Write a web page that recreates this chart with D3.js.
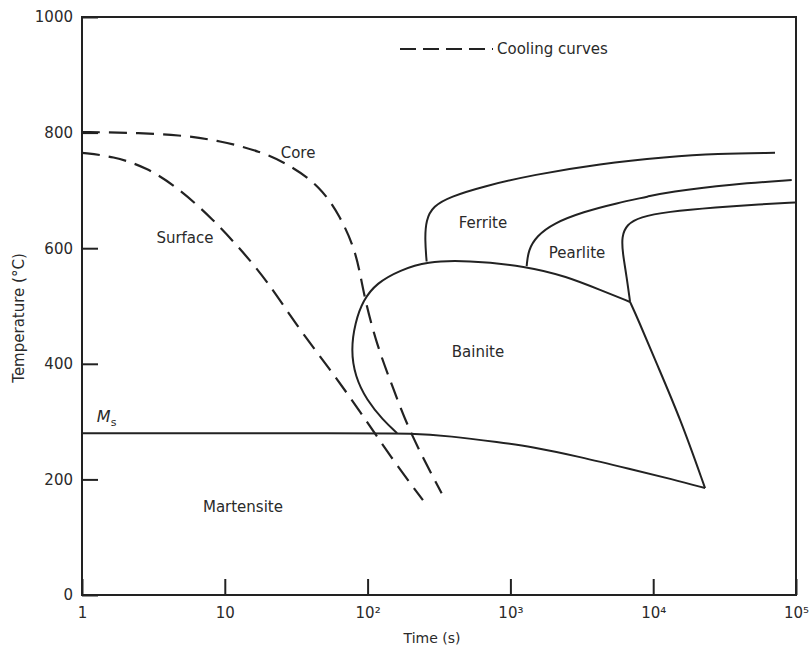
<!DOCTYPE html>
<html>
<head>
<meta charset="utf-8">
<script src="https://cdn.jsdelivr.net/npm/d3@7"></script>
<style>
  body { margin: 0; background: #fff; }
  text { font-family: "DejaVu Sans", sans-serif; fill: #2a2a2a; }
</style>
</head>
<body>
<div id="chart"></div>
<script>
// cooling curves, [time (s), temperature (°C)]
var coreCurve = [[1, 801], [2.17, 800], [4.85, 796], [9.25, 786], [17.6, 768], [28.6, 744], [46.5, 707],
    [64.1, 656], [83.9, 592], [92.9, 524], [116, 432], [151, 358], [198, 280], [330, 176]];
var surfaceCurve = [[1, 765], [1.65, 759], [2.84, 740], [4.85, 702], [8.26, 650], [12.8, 599], [19.6, 545],
    [31.9, 466], [54.6, 390], [88.5, 318], [144, 240], [244, 164]];

// transformation boundaries
var bainiteStart = [[161, 280], [128, 303], [98.6, 337], [81.7, 378], [76.5, 424], [81.7, 471], [92.9, 510],
    [116, 540], [169, 562], [259, 577], [494, 579], [1300, 569], [2477, 551], [4236, 528], [6887, 507]];
var bainiteEnd = [[6887, 507], [7800, 478], [10500, 402], [15500, 305], [23070, 185]];
var msLine = [[1, 280], [100, 280], [198, 280], [378, 275], [845, 264], [1371, 257], [3069, 239],
    [6887, 218], [13770, 200], [23070, 185]];
var ferriteStart = [[259, 577], [252, 614], [256, 649], [288, 673], [378, 689], [646, 707], [1445, 727],
    [4236, 746], [12420, 758], [27860, 764], [71290, 765]];
var pearliteStart = [[1300, 569], [1334, 597], [1528, 621], [1995, 643], [3243, 663], [5546, 678],
    [9506, 690], [12420, 697], [36390, 711], [93330, 718]];
var pearliteEnd = [[6887, 507], [6516, 551], [6109, 592], [6012, 620], [6516, 641], [8091, 654],
    [12420, 663], [27860, 671], [55980, 676], [98400, 679]];

// region labels, [time, temperature, text]
var regionLabels = [[32.6, 765, "Core"], [5.26, 618, "Surface"], [643, 644, "Ferrite"],
    [2926, 592, "Pearlite"], [593, 420, "Bainite"], [13.4, 152, "Martensite"]];

var xTicks = [1, 10, 100, 1000, 1e4, 1e5];
var xTickLabels = ["1", "10", "10²", "10³", "10⁴", "10⁵"];
var yTicks = [0, 200, 400, 600, 800, 1000];

const width = 809;
const height = 650;
const ink = "#222";

const x = d3.scaleLog().domain([1, 1e5]).range([82, 796]);
const y = d3.scaleLinear().domain([0, 1000]).range([595, 17]);

const svg = d3.select("#chart").append("svg")
    .attr("width", width)
    .attr("height", height)
    .attr("viewBox", [0, 0, width, height]);

svg.append("rect").attr("width", width).attr("height", height).attr("fill", "#fff");

// frame
svg.append("rect")
    .attr("x", x(1)).attr("y", y(1000))
    .attr("width", x(1e5) - x(1)).attr("height", y(0) - y(1000))
    .attr("fill", "none").attr("stroke", ink).attr("stroke-width", 2);

// axes, ticks pointing inward
svg.append("g")
    .attr("transform", `translate(0,${y(0)})`)
    .call(d3.axisBottom(x).tickValues(xTicks).tickSize(-16).tickPadding(12)
        .tickFormat((d, i) => xTickLabels[i]))
    .call(g => g.select(".domain").remove())
    .call(g => g.selectAll(".tick line").attr("stroke", ink).attr("stroke-width", 2))
    .call(g => g.selectAll(".tick text").attr("font-size", 15).attr("font-family", "DejaVu Sans").attr("fill", "#2a2a2a"));

svg.append("g")
    .attr("transform", `translate(${x(1)},0)`)
    .call(d3.axisLeft(y).tickValues(yTicks).tickSize(-16).tickPadding(9).tickFormat(d3.format("d")))
    .call(g => g.select(".domain").remove())
    .call(g => g.selectAll(".tick line").attr("stroke", ink).attr("stroke-width", 2))
    .call(g => g.selectAll(".tick text").attr("font-size", 15).attr("font-family", "DejaVu Sans").attr("fill", "#2a2a2a"));

svg.append("text")
    .attr("transform", `translate(24,${(y(0) + y(1000)) / 2 + 12}) rotate(-90)`)
    .attr("text-anchor", "middle")
    .attr("font-size", 15)
    .text("Temperature (°C)");

svg.append("text")
    .attr("x", 432).attr("y", 643)
    .attr("text-anchor", "middle")
    .attr("font-size", 14)
    .text("Time (s)");

const line = d3.line()
    .x(d => x(d[0]))
    .y(d => y(d[1]))
    .curve(d3.curveBasis);

// solid transformation lines
[bainiteStart, bainiteEnd, msLine, ferriteStart, pearliteStart, pearliteEnd].forEach(function (pts) {
    svg.append("path")
        .datum(pts)
        .attr("d", line)
        .attr("fill", "none")
        .attr("stroke", ink)
        .attr("stroke-width", 2);
});

// dashed cooling curves
[coreCurve, surfaceCurve].forEach(function (pts) {
    svg.append("path")
        .datum(pts)
        .attr("d", line)
        .attr("fill", "none")
        .attr("stroke", ink)
        .attr("stroke-width", 2.2)
        .attr("stroke-dasharray", "18,9");
});

svg.append("g")
    .selectAll("text")
    .data(regionLabels)
    .join("text")
    .attr("x", d => x(d[0]))
    .attr("y", d => y(d[1]))
    .attr("dy", "0.35em")
    .attr("text-anchor", "middle")
    .attr("font-size", 15)
    .text(d => d[2]);

// Ms label
const ms = svg.append("text")
    .attr("x", x(1.27))
    .attr("y", y(300))
    .attr("font-size", 16);
ms.append("tspan").attr("font-style", "italic").text("M");
ms.append("tspan").attr("font-size", 11).attr("dy", 4).text("s");

// legend
svg.append("line")
    .attr("x1", 400).attr("x2", 493)
    .attr("y1", 49).attr("y2", 49)
    .attr("stroke", ink)
    .attr("stroke-width", 2.2)
    .attr("stroke-dasharray", "16,7");

svg.append("text")
    .attr("x", 497).attr("y", 49)
    .attr("dy", "0.35em")
    .attr("font-size", 15)
    .text("Cooling curves");
</script>
</body>
</html>
